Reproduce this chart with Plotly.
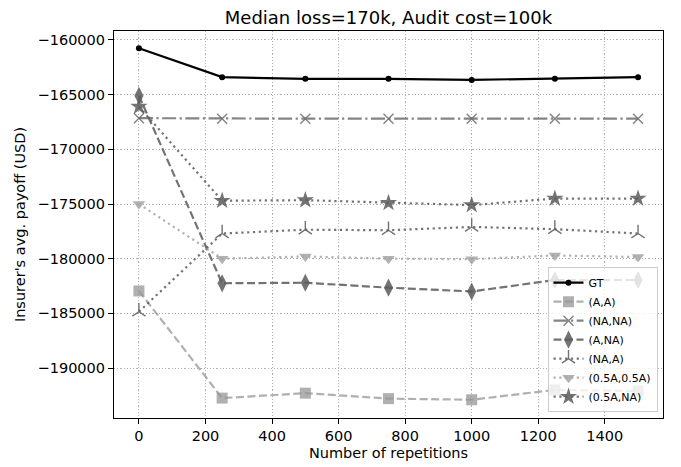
import plotly.graph_objects as go

reps = [0, 250, 500, 750, 1000, 1250, 1500]
gt = [-160750, -163400, -163550, -163550, -163650, -163550, -163400]
a_a = [-182950, -192750, -192300, -192800, -192900, -192000, -192100]
na_na = [-167150, -167200, -167200, -167200, -167200, -167200, -167200]
a_na = [-165100, -182250, -182200, -182650, -183000, -181950, -181950]
na_a = [-184850, -177700, -177350, -177400, -177100, -177300, -177700]
h_h = [-175000, -180000, -179800, -180000, -180050, -179700, -179850]
h_na = [-166100, -174700, -174650, -174900, -175100, -174500, -174500]

DASH = "8px,3.5px"
DOT = "2.2px,3.6px"
DASHDOT = "14px,3.5px,2.2px,3.5px"

series = [
    ("GT", gt, "#000000", "solid", "circle", 6),
    ("(A,A)", a_a, "rgba(150,150,150,0.75)", DASH, "square", 11),
    ("(NA,NA)", na_na, "rgba(110,110,110,0.85)", DASHDOT, "x-thin-open", 10),
    ("(A,NA)", a_na, "rgba(90,90,90,0.85)", DASH, "diamond-tall", 13),
    ("(NA,A)", na_a, "rgba(90,90,90,0.85)", DOT, "y-up-open", 11),
    ("(0.5A,0.5A)", h_h, "rgba(165,165,165,0.85)", DOT, "triangle-down", 11),
    ("(0.5A,NA)", h_na, "rgba(90,90,90,0.85)", DOT, "star", 13),
]

fig = go.Figure()
for name, ys, col, dash, sym, sz in series:
    mk = dict(symbol=sym, size=sz, color=col)
    if sym in ("x-thin-open", "y-up-open"):
        mk["line"] = dict(color=col, width=1.4)
    fig.add_trace(go.Scatter(x=reps, y=ys, name=name, mode="lines+markers",
                             line=dict(color=col, dash=dash, width=2.2), marker=mk))

axis_common = dict(showline=True, linecolor="black", linewidth=1.1, mirror=True,
                   ticks="outside", ticklen=5, tickwidth=1, tickcolor="black",
                   showgrid=True, gridcolor="#b0b0b0", griddash="1.2px,2px", gridwidth=1,
                   zeroline=False, automargin=False,
                   tickfont=dict(size=14.5, color="black"))

W, H = 673, 459
fig.update_layout(
    width=W, height=H,
    margin=dict(l=106, r=18, t=23, b=49),
    paper_bgcolor="white", plot_bgcolor="white",
    font=dict(family="DejaVu Sans", color="black"),
    title=dict(text="Median loss=170k, Audit cost=100k", x=(106 + 655) / 2 / W,
               xanchor="center", y=1 - 9.5 / H, yanchor="middle", font=dict(size=18)),
    xaxis=dict(range=[-75, 1575], tickvals=[0, 200, 400, 600, 800, 1000, 1200, 1400],
               title=dict(text="Number of repetitions", font=dict(size=14.5), standoff=4),
               **axis_common),
    yaxis=dict(range=[-194570, -159180],
               tickvals=[-160000, -165000, -170000, -175000, -180000, -185000, -190000],
               ticktext=["\u2212160000", "\u2212165000", "\u2212170000", "\u2212175000",
                         "\u2212180000", "\u2212185000", "\u2212190000"],
               title=dict(text="Insurer's avg. payoff (USD)", font=dict(size=14.5), standoff=8),
               **axis_common),
    legend=dict(x=0.99, y=0.015, xanchor="right", yanchor="bottom",
                bgcolor="rgba(255,255,255,0.8)", bordercolor="#cccccc", borderwidth=1,
                font=dict(size=11), tracegroupgap=0, itemwidth=30),
    showlegend=True,
)

fig.write_html("out.html")
